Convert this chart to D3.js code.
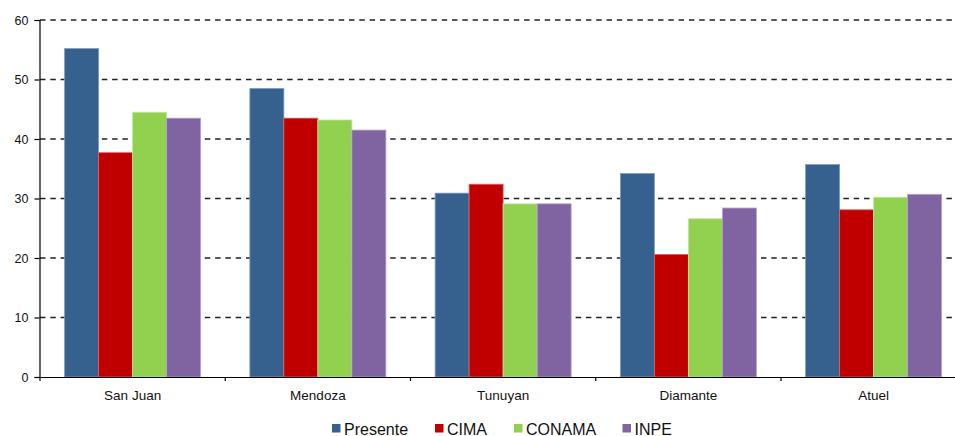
<!DOCTYPE html>
<html>
<head>
<meta charset="utf-8">
<script src="https://cdn.jsdelivr.net/npm/d3@7"></script>
<style>
  html, body { margin: 0; padding: 0; background: #fff; overflow: hidden; }
  svg { display: block; font-family: "Liberation Sans", Arial, sans-serif; }
</style>
</head>
<body>
<svg id="chart" width="955" height="436"></svg>
<script>
// Basins and scenario values
const categories = ["San Juan", "Mendoza", "Tunuyan", "Diamante", "Atuel"];
const seriesNames = ["Presente", "CIMA", "CONAMA", "INPE"];
const presente = [55.2, 48.5, 30.9, 34.2, 35.7];
const cima     = [37.7, 43.5, 32.4, 20.6, 28.1];
const conama   = [44.5, 43.2, 29.1, 26.6, 30.2];
const inpe     = [43.5, 41.5, 29.1, 28.4, 30.7];
const yTicks = [0, 10, 20, 30, 40, 50, 60];
const colors = ["#36618F", "#C00000", "#92D050", "#8064A2"];
const strokes = ["#7F9CC0", "#E06060", "#C2E8A0", "#B3A2CB"];

const seriesValues = [presente, cima, conama, inpe];

const svg = d3.select("#chart");
const x0 = d3.scaleBand().domain(categories).range([40, 966.25]).paddingInner(0).paddingOuter(0);
const x1 = d3.scaleBand().domain(seriesNames).range([0, x0.bandwidth()]).paddingInner(0).paddingOuter(0.724);
const y = d3.scaleLinear().domain([0, 60]).range([377, 20]);

// dashed horizontal gridlines
svg.append("g").selectAll("line")
  .data(yTicks.filter(d => d > 0))
  .join("line")
  .attr("x1", 40).attr("x2", 955)
  .attr("y1", d => y(d)).attr("y2", d => y(d))
  .attr("stroke", "#222").attr("stroke-width", 1.3)
  .attr("stroke-dasharray", "5.5,4.8");

// bars
const groups = svg.append("g").selectAll("g")
  .data(categories)
  .join("g")
  .attr("transform", d => `translate(${x0(d)},0)`);

groups.selectAll("rect")
  .data((c, i) => seriesNames.map((s, k) => ({ s, k, v: seriesValues[k][i] })))
  .join("rect")
  .attr("x", d => x1(d.s))
  .attr("width", x1.bandwidth())
  .attr("y", d => y(d.v))
  .attr("height", d => y(0) - y(d.v))
  .attr("fill", d => colors[d.k])
  .attr("stroke", d => strokes[d.k])
  .attr("stroke-width", 0.8);

// y axis
const yAxis = d3.axisLeft(y).tickValues(yTicks).tickSize(5).tickPadding(6).tickFormat(d3.format("d"));
const ya = svg.append("g").attr("transform", "translate(39.5,0)").call(yAxis);
ya.select(".domain").attr("stroke", "#000").attr("stroke-width", 1.2);
ya.selectAll(".tick line").attr("stroke", "#000").attr("stroke-width", 1.2);
ya.selectAll(".tick text").attr("font-size", 12.5).attr("fill", "#111").attr("font-family", "\"Liberation Sans\", Arial, sans-serif");

// x axis
const xAxis = d3.axisBottom(x0).tickSize(0).tickPadding(13);
const xa = svg.append("g").attr("transform", "translate(0,377)").call(xAxis);
xa.select(".domain").attr("stroke", "#000").attr("stroke-width", 1.2);
xa.selectAll(".tick text").attr("font-size", 13.5).attr("fill", "#111").attr("font-family", "\"Liberation Sans\", Arial, sans-serif");
// boundary ticks between categories
svg.append("g").selectAll("line")
  .data(categories)
  .join("line")
  .attr("x1", d => x0(d)).attr("x2", d => x0(d))
  .attr("y1", 377).attr("y2", 381)
  .attr("stroke", "#000").attr("stroke-width", 1.2);

// legend
const legendX = [332, 435, 514, 622.5];
const legend = svg.append("g").selectAll("g")
  .data(seriesNames)
  .join("g")
  .attr("transform", (d, i) => `translate(${legendX[i]},424)`);
legend.append("rect")
  .attr("width", 8.5).attr("height", 8.5)
  .attr("fill", (d, i) => colors[i]);
legend.append("text")
  .attr("x", 12).attr("y", 10.5)
  .attr("font-size", 16).attr("fill", "#111")
  .text(d => d);
</script>
</body>
</html>
